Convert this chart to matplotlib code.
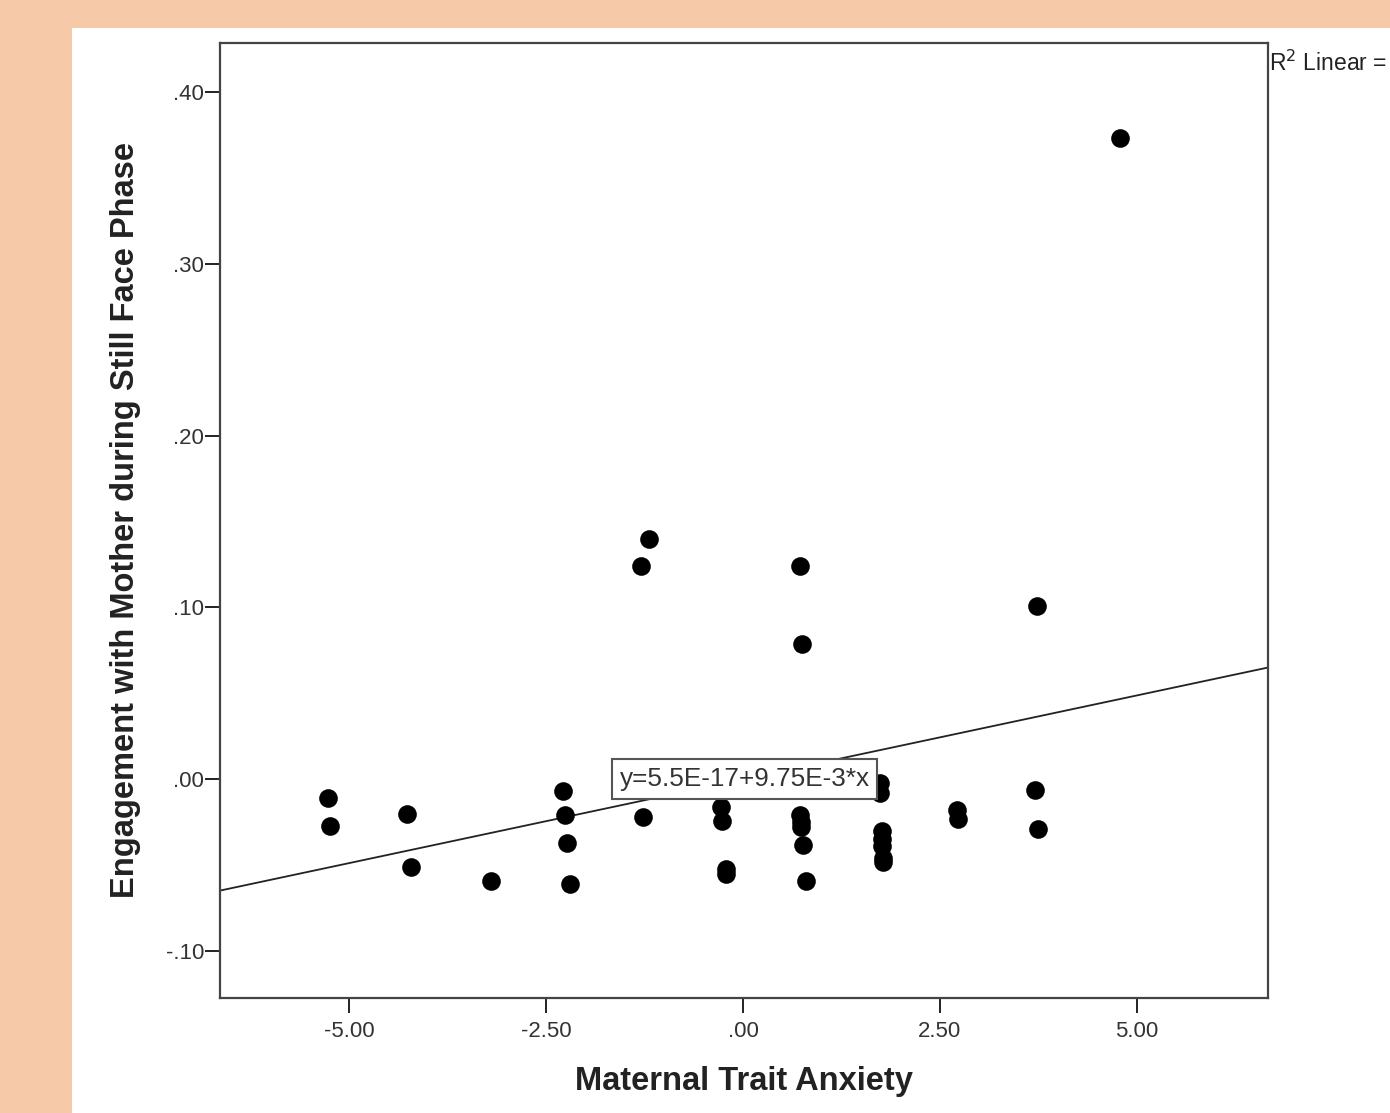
import numpy as np
import matplotlib.pyplot as plt
from matplotlib.patches import Rectangle

plt.rcParams['font.family'] = ['Liberation Sans', 'DejaVu Sans']

# Maternal Trait Anxiety (centrado) e engajamento na fase Still Face
anxiety = [-5.27, -5.25, -4.27, -4.22, -3.20,
           -2.29, -2.26, -2.24, -2.20,
           -1.30, -1.19, -1.27,
           -0.28, -0.27, -0.22, -0.21,
           0.72, 0.75, 0.73, 0.74, 0.74, 0.76, 0.80,
           1.74, 1.74, 1.76, 1.76, 1.77, 1.78, 1.78,
           2.72, 2.73,
           3.71, 3.75, 3.74, 4.79]
engagement = [-0.011, -0.027, -0.020, -0.051, -0.059,
              -0.007, -0.021, -0.037, -0.061,
              0.124, 0.140, -0.022,
              -0.016, -0.024, -0.052, -0.055,
              0.124, 0.079, -0.021, -0.025, -0.028, -0.038, -0.059,
              -0.002, -0.008, -0.030, -0.035, -0.039, -0.046, -0.048,
              -0.018, -0.023,
              -0.006, -0.029, 0.101, 0.373]

# Coeficientes da reta de regressão (do SPSS)
intercept = 5.5e-17
slope = 9.75e-3

xticks = [-5.0, -2.5, 0.0, 2.5, 5.0]
xticklabels = ['-5.00', '-2.50', '.00', '2.50', '5.00']
yticks = [-0.1, 0.0, 0.1, 0.2, 0.3, 0.4]
yticklabels = ['-.10', '.00', '.10', '.20', '.30', '.40']

fig = plt.figure(figsize=(13.9, 11.13), dpi=100)
fig.patch.set_facecolor('#f6c9a9')
fig.patches.append(Rectangle((72 / 1390, 0), 1, (1113 - 28) / 1113,
                             transform=fig.transFigure, facecolor='white',
                             edgecolor='none', zorder=-10))

ax = fig.add_axes([220 / 1390, 115 / 1113, 1048 / 1390, 955 / 1113])
ax.set_zorder(5)
ax.set_xlim(-6.645, 6.67)
ax.set_ylim(-0.1273, 0.4285)

ax.scatter(anxiety, engagement, s=180, color='black', linewidths=0, zorder=3)

xs = np.array(ax.get_xlim())
ax.plot(xs, intercept + slope * xs, color='#222222', linewidth=1.3, zorder=2)

ax.text(-1.57, 0.0, 'y=5.5E-17+9.75E-3*x', fontsize=18.8, color='#333333',
        va='center', ha='left', zorder=4,
        bbox=dict(boxstyle='square,pad=0.3', facecolor='white',
                  edgecolor='#555555', linewidth=1.5))

ax.set_xticks(xticks)
ax.set_xticklabels(xticklabels)
ax.set_yticks(yticks)
ax.set_yticklabels(yticklabels)
ax.tick_params(axis='both', labelsize=16, length=10.5, width=1.4,
               color='#222222', labelcolor='#333333')
ax.tick_params(axis='x', pad=6)
ax.tick_params(axis='y', pad=1)

for side in ['top', 'right', 'bottom', 'left']:
    ax.spines[side].set_color('#444444')
    ax.spines[side].set_linewidth(1.6)

ax.set_xlabel('Maternal Trait Anxiety', fontsize=23.5, fontweight='bold',
              color='#222222')
ax.xaxis.set_label_coords(0.5, -0.071)
ax.set_ylabel('Engagement with Mother during Still Face Phase', fontsize=23.5,
              fontweight='bold', color='#222222')
ax.yaxis.set_label_coords(-0.0754, 0.5)

fig.text(1269 / 1390, 1 - 63 / 1113, 'R$^2$ Linear =', fontsize=16.5,
         color='#222222', va='center', ha='left')

plt.savefig('out.png', dpi=100, facecolor=fig.get_facecolor())
